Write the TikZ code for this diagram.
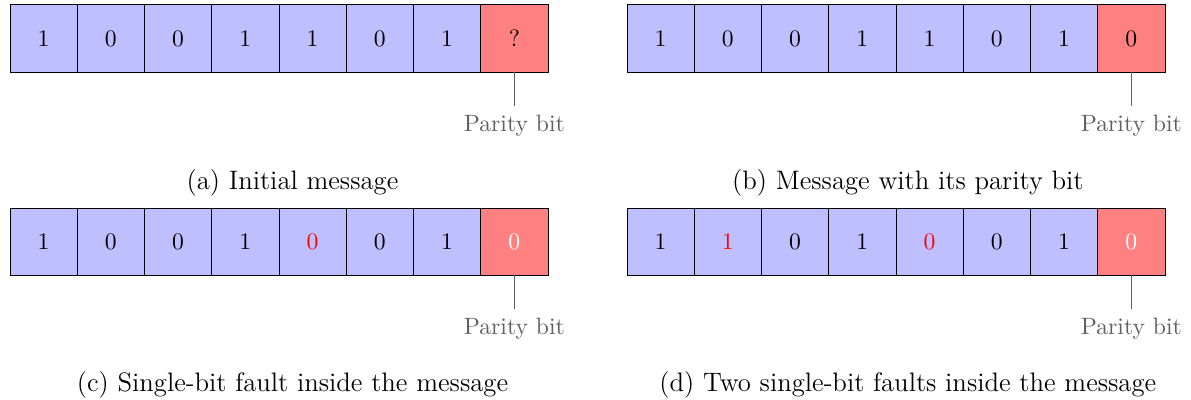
\documentclass[tikz,border=0pt]{standalone}
\usepackage{xcolor}
\usetikzlibrary{positioning}
\definecolor{bitBlue}{RGB}{191,191,255}
\definecolor{parityRed}{RGB}{255,128,128}
\definecolor{labelGray}{RGB}{95,95,95}
\tikzset{
    bitcell/.style={
        rectangle,
        draw=black,
        fill=bitBlue,
        minimum width=1cm,
        minimum height=1cm,
        inner sep=0pt,
        outer sep=0pt,
        anchor=north west
    },
    paritycell/.style={
        rectangle,
        draw=black,
        fill=parityRed,
        minimum width=1cm,
        minimum height=1cm,
        inner sep=0pt,
        outer sep=0pt
    },
    okbit/.style={},
    faultbit/.style={text=red},
    sentbit/.style={text=white},
    paritytick/.style={draw=labelGray, thin},
    paritylabel/.style={text=labelGray, inner sep=3.6pt},
    subcaption/.style={font=\fontsize{11.3}{13.5}\selectfont}
}

\begin{document}
\begin{tikzpicture}
    \useasboundingbox (0,0) rectangle (17.710,-5.948);
    % (a) initial message
    \foreach \b [count=\i] in {1,0,0,1,1,0,1}
        \node[bitcell] (a\i) at (0.149+\i-1,-0.074) {\b};
    \node[paritycell, right=0pt of a7] (a8) {?};
    \draw[paritytick] (a8.south) -- ++(0,-0.5) coordinate (aTick);
    \node[paritylabel, below=0pt of aTick] (aLabel) {Parity bit};
    \node[subcaption] (aCap) at (4.35,-2.721) {(a) Initial message};
    % (b) with parity bit
    \foreach \b [count=\i] in {1,0,0,1,1,0,1}
        \node[bitcell] (b\i) at (9.323+\i-1,-0.074) {\b};
    \node[paritycell, right=0pt of b7] (b8) {0};
    \draw[paritytick] (b8.south) -- ++(0,-0.5) coordinate (bTick);
    \node[paritylabel, below=0pt of bTick] (bLabel) {Parity bit};
    \node[subcaption] (bCap) at (13.50,-2.721) {(b) Message with its parity bit};
    % (c) one fault
    \foreach \b/\s [count=\i] in {1/okbit,0/okbit,0/okbit,1/okbit,0/faultbit,0/okbit,1/okbit}
        \node[bitcell, \s] (c\i) at (0.149+\i-1,-3.093) {\b};
    \node[paritycell, sentbit, right=0pt of c7] (c8) {0};
    \draw[paritytick] (c8.south) -- ++(0,-0.5) coordinate (cTick);
    \node[paritylabel, below=0pt of cTick] (cLabel) {Parity bit};
    \node[subcaption] (cCap) at (4.35,-5.725) {(c) Single-bit fault inside the message};
    % (d) two faults
    \foreach \b/\s [count=\i] in {1/okbit,1/faultbit,0/okbit,1/okbit,0/faultbit,0/okbit,1/okbit}
        \node[bitcell, \s] (d\i) at (9.323+\i-1,-3.093) {\b};
    \node[paritycell, sentbit, right=0pt of d7] (d8) {0};
    \draw[paritytick] (d8.south) -- ++(0,-0.5) coordinate (dTick);
    \node[paritylabel, below=0pt of dTick] (dLabel) {Parity bit};
    \node[subcaption] (dCap) at (13.50,-5.725) {(d) Two single-bit faults inside the message};
\end{tikzpicture}
\end{document}
